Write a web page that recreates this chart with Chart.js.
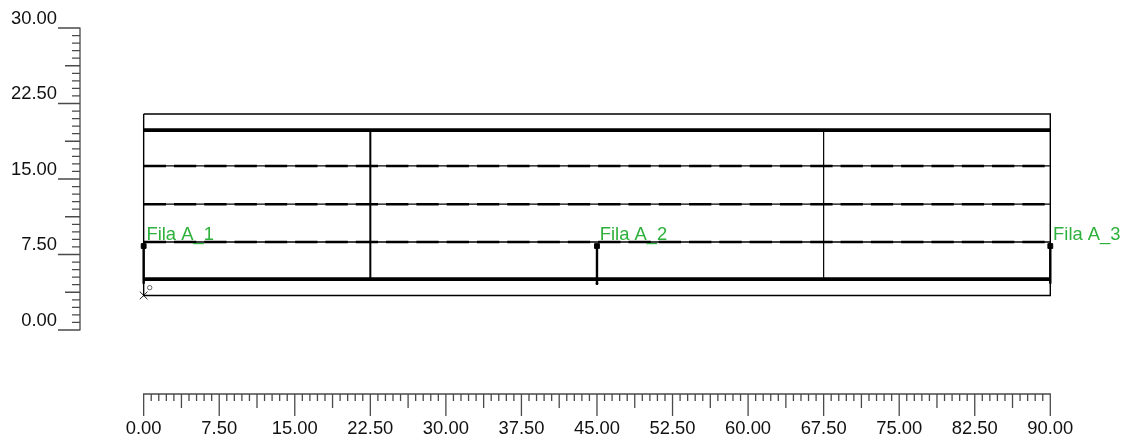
<!DOCTYPE html>
<html><head><meta charset="utf-8">
<style>html,body{margin:0;padding:0;background:#fff}#wrap{position:relative;width:1127px;height:441px}canvas{display:block}</style>
<script src="https://cdn.jsdelivr.net/npm/chart.js@4"></script>
</head><body><div id="wrap"><canvas id="c" width="1127" height="441" style="width:1127px;height:441px"></canvas></div>
<script>
const axisMajors = [0,7.5,15,22.5,30,37.5,45,52.5,60,67.5,75,82.5,90];
const yAxisMajors = [0,7.5,15,22.5,30];
const frameTop = 21.45, frameBottom = 3.43;
const heavyLevels = [19.86,5.06];
const dashedLevels = [16.3,12.5,8.74];
const columnXs = [22.5,67.5];
const filaXs = [0,45,90];
const filaTop = 8.34, filaBottom = 4.6;
const filaNames = ['Fila A_1','Fila A_2','Fila A_3'];
const originPoint = [0,3.43];
const circlePoint = [0.6,4.2];

const GREEN='#2DB03C', INK='#000', AXIS='#4a4a4a';
const FONT='"Liberation Sans",Arial,sans-serif';
const ds=[];
const seg=(pts,w,extra={})=>ds.push(Object.assign({type:'line',data:pts.map(p=>({x:p[0],y:p[1]})),borderColor:INK,borderWidth:w,pointRadius:0,borderCapStyle:'butt',tension:0,fill:false,clip:false},extra));
seg([[0,frameTop],[90,frameTop],[90,frameBottom],[0,frameBottom],[0,frameTop]],1.4);
heavyLevels.forEach(v=>seg([[0,v],[90,v]],3.7));
dashedLevels.forEach(v=>{seg([[0,v],[90,v]],1.3);seg([[0,v],[90,v]],2.5,{borderDash:[22.3,8]});});
seg([[columnXs[0],19.86],[columnXs[0],5.06]],2);
seg([[columnXs[1],19.86],[columnXs[1],5.06]],1.2);
filaXs.forEach(x=>seg([[x,filaTop],[x,filaBottom]],2.4));
ds.push({type:'scatter',data:filaXs.map(x=>({x,y:filaTop})),pointStyle:'rect',pointRadius:3.4,backgroundColor:INK,borderColor:INK,clip:false});
ds.push({type:'scatter',data:[{x:45,y:filaBottom}],pointStyle:'rect',pointRadius:1.2,backgroundColor:INK,borderColor:INK,clip:false});
ds.push({type:'scatter',data:[{x:originPoint[0],y:originPoint[1]}],pointStyle:'cross',rotation:45,pointRadius:5.5,borderWidth:1,borderColor:'#222',clip:false});
ds.push({type:'scatter',data:[{x:circlePoint[0],y:circlePoint[1]}],pointStyle:'circle',pointRadius:2.2,borderWidth:0.9,borderColor:'#555',backgroundColor:'rgba(0,0,0,0)',clip:false});

const minorTicks=(m)=>{const out=[];for(let i=0;i<m.length-1;i++){for(let j=0;j<10;j++)out.push(m[i]+j*(m[i+1]-m[i])/10);}out.push(m[m.length-1]);return out;};
const kind=(v)=>{const k=Math.round(v/0.75);return k%10===0?0:(k%5===0?1:2);};
const lbl=v=>kind(v)===0?Number(v).toFixed(2):'';

const axesPlugin={id:'rulers',afterDraw(ch){
  const c=ch.ctx,xs=ch.scales.x,ys=ch.scales.y,bx=ys.right,by=xs.top;
  c.save();c.strokeStyle=AXIS;c.lineWidth=1.3;
  c.beginPath();
  const xL=[22,14,7],yL=[22,15,8];
  const x0=xs.getPixelForValue(0),x1=xs.getPixelForValue(90);
  const ay=by,ax=bx;
  c.moveTo(x0-.6,ay);c.lineTo(x1+.6,ay);
  xs.ticks.forEach(t=>{const p=xs.getPixelForValue(t.value);c.moveTo(p,ay);c.lineTo(p,ay+xL[kind(t.value)]);});
  const y0=ys.getPixelForValue(0),y1=ys.getPixelForValue(30);
  c.moveTo(ax,y0+.6);c.lineTo(ax,y1-.6);
  ys.ticks.forEach(t=>{const p=ys.getPixelForValue(t.value);c.moveTo(ax,p);c.lineTo(ax-yL[kind(t.value)],p);});
  c.stroke();
  c.fillStyle=GREEN;c.font='18.4px '+FONT;c.textAlign='left';c.textBaseline='alphabetic';
  filaXs.forEach((x,i)=>c.fillText(filaNames[i],xs.getPixelForValue(x)+2.8,ys.getPixelForValue(filaTop)-6));
  c.restore();
}};

new Chart(document.getElementById('c'),{
  type:'scatter',
  data:{datasets:ds},
  plugins:[axesPlugin],
  options:{
    responsive:false,animation:false,devicePixelRatio:1,
    layout:{padding:{left:0,right:76.7,top:28,bottom:0}},
    plugins:{legend:{display:false},tooltip:{enabled:false},title:{display:false}},
    scales:{
      x:{type:'linear',min:-6.32,max:90,position:'bottom',
        afterBuildTicks:s=>{s.ticks=minorTicks(axisMajors).map(value=>({value}));},
        afterFit:s=>{s.height=47;s.paddingLeft=0;s.paddingRight=0;},
        grid:{display:false,drawTicks:false},border:{display:false},
        ticks:{autoSkip:false,maxRotation:0,minRotation:0,padding:24,color:'#111',font:{family:FONT,size:18.4},callback:lbl}},
      y:{type:'linear',min:-6.36,max:30,position:'left',
        afterBuildTicks:s=>{s.ticks=minorTicks(yAxisMajors).map(value=>({value}));},
        afterFit:s=>{s.width=80;s.paddingTop=0;s.paddingBottom=0;},
        grid:{display:false,drawTicks:false},border:{display:false},
        ticks:{autoSkip:false,padding:23,labelOffset:-9.5,color:'#111',font:{family:FONT,size:18.4},callback:lbl}}
    }
  }
});
</script></body></html>
